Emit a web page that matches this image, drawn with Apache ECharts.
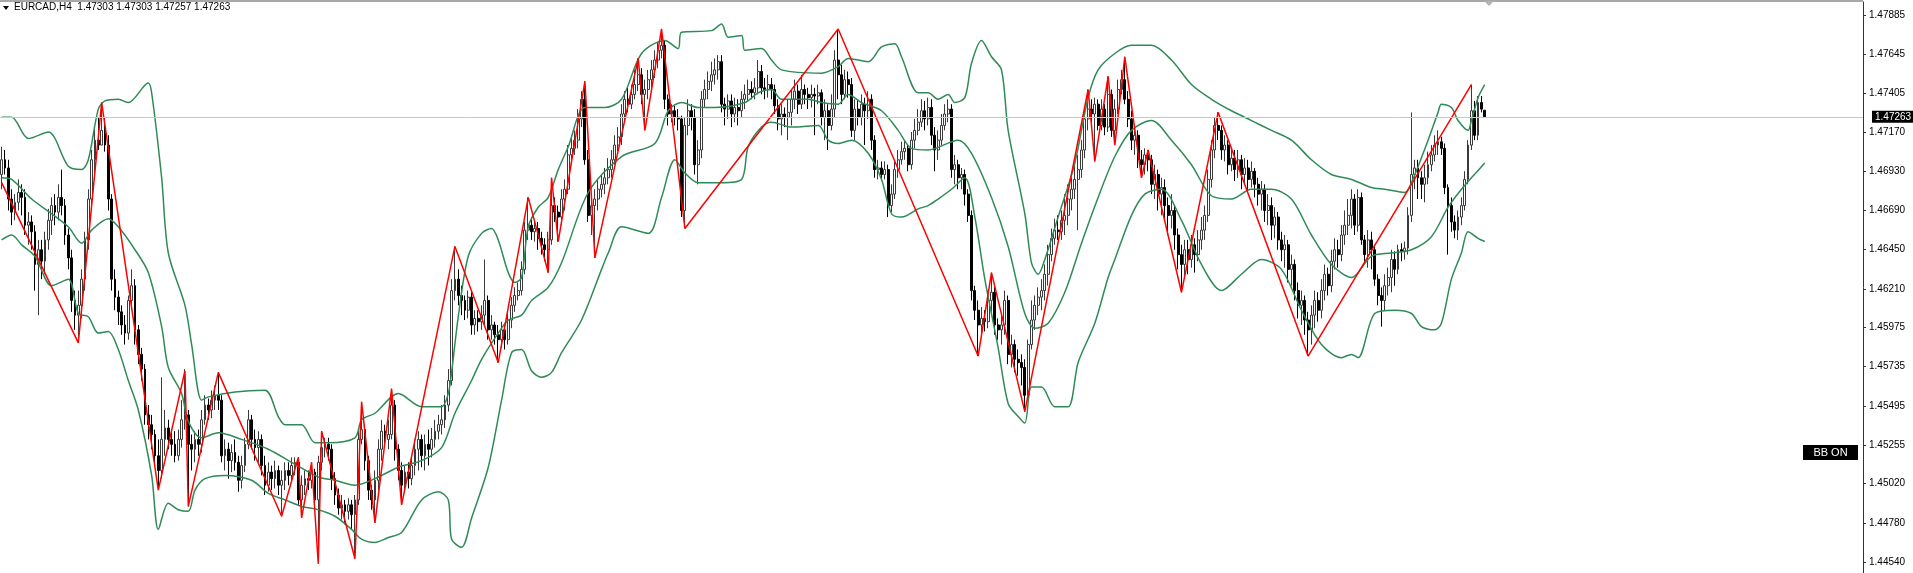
<!DOCTYPE html>
<html>
<head>
<meta charset="utf-8">
<title>EURCAD,H4</title>
<script src="https://cdn.jsdelivr.net/npm/echarts@6/dist/echarts.min.js"></script>
<style>
  html, body { margin: 0; padding: 0; background: #fff; }
  #chart { width: 1913px; height: 573px; }
</style>
</head>
<body>
<div id="chart"></div>
<script>
// EURCAD H4 bars, one row per bar: [open, close, low, high]
var candles = [
  [1.4691,1.4700,1.4682,1.4708],[1.4700,1.4695,1.4691,1.4706],[1.4695,1.4676,1.4669,1.4700],[1.4676,1.4668,1.4660,1.4682],[1.4668,1.4674,1.4663,1.4679],
  [1.4674,1.4680,1.4669,1.4688],[1.4680,1.4677,1.4666,1.4685],[1.4677,1.4660,1.4654,1.4682],[1.4660,1.4662,1.4648,1.4668],[1.4662,1.4656,1.4645,1.4666],
  [1.4656,1.4636,1.4620,1.4660],[1.4636,1.4645,1.4605,1.4651],[1.4645,1.4638,1.4627,1.4651],[1.4638,1.4651,1.4630,1.4656],[1.4651,1.4663,1.4645,1.4670],
  [1.4663,1.4672,1.4654,1.4677],[1.4672,1.4668,1.4660,1.4679],[1.4668,1.4677,1.4663,1.4685],[1.4677,1.4672,1.4666,1.4694],[1.4672,1.4654,1.4648,1.4676],
  [1.4654,1.4640,1.4633,1.4658],[1.4640,1.4614,1.4607,1.4645],[1.4614,1.4605,1.4596,1.4620],[1.4605,1.4611,1.4588,1.4620],[1.4611,1.4627,1.4603,1.4633],
  [1.4627,1.4651,1.4620,1.4656],[1.4651,1.4676,1.4645,1.4682],[1.4676,1.4700,1.4669,1.4706],[1.4700,1.4712,1.4691,1.4720],[1.4712,1.4709,1.4706,1.4726],
  [1.4709,1.4718,1.4709,1.4735],[1.4718,1.4709,1.4705,1.4726],[1.4709,1.4676,1.4669,1.4715],[1.4676,1.4627,1.4620,1.4679],[1.4627,1.4616,1.4608,1.4633],
  [1.4616,1.4607,1.4599,1.4620],[1.4607,1.4599,1.4593,1.4611],[1.4599,1.4594,1.4587,1.4605],[1.4594,1.4614,1.4590,1.4617],[1.4614,1.4623,1.4608,1.4633],
  [1.4623,1.4596,1.4587,1.4627],[1.4596,1.4581,1.4575,1.4599],[1.4581,1.4572,1.4565,1.4585],[1.4572,1.4544,1.4538,1.4575],[1.4544,1.4538,1.4529,1.4550],
  [1.4538,1.4532,1.4523,1.4544],[1.4532,1.4519,1.4513,1.4535],[1.4519,1.4510,1.4498,1.4529],[1.4510,1.4529,1.4505,1.4567],[1.4529,1.4536,1.4519,1.4547],
  [1.4536,1.4529,1.4523,1.4541],[1.4529,1.4526,1.4519,1.4535],[1.4526,1.4519,1.4515,1.4534],[1.4519,1.4529,1.4516,1.4535],[1.4529,1.4541,1.4524,1.4553],
  [1.4541,1.4544,1.4535,1.4572],[1.4544,1.4526,1.4488,1.4547],[1.4526,1.4523,1.4510,1.4532],[1.4523,1.4529,1.4515,1.4534],[1.4529,1.4526,1.4519,1.4535],
  [1.4526,1.4541,1.4521,1.4547],[1.4541,1.4550,1.4538,1.4556],[1.4550,1.4547,1.4541,1.4554],[1.4547,1.4553,1.4542,1.4559],[1.4553,1.4556,1.4547,1.4562],
  [1.4556,1.4553,1.4547,1.4570],[1.4553,1.4519,1.4515,1.4556],[1.4519,1.4523,1.4510,1.4529],[1.4523,1.4516,1.4505,1.4527],[1.4516,1.4521,1.4509,1.4526],
  [1.4521,1.4515,1.4510,1.4529],[1.4515,1.4504,1.4497,1.4519],[1.4504,1.4513,1.4499,1.4519],[1.4513,1.4526,1.4509,1.4530],[1.4526,1.4541,1.4523,1.4547],
  [1.4541,1.4529,1.4523,1.4544],[1.4529,1.4524,1.4516,1.4535],[1.4524,1.4529,1.4515,1.4534],[1.4529,1.4513,1.4507,1.4532],[1.4513,1.4501,1.4495,1.4519],
  [1.4501,1.4509,1.4497,1.4515],[1.4509,1.4505,1.4498,1.4513],[1.4505,1.4510,1.4499,1.4516],[1.4510,1.4501,1.4495,1.4513],[1.4501,1.4504,1.4482,1.4510],
  [1.4504,1.4510,1.4498,1.4515],[1.4510,1.4507,1.4501,1.4515],[1.4507,1.4513,1.4503,1.4518],[1.4513,1.4515,1.4507,1.4518],[1.4515,1.4492,1.4489,1.4518],
  [1.4492,1.4501,1.4481,1.4507],[1.4501,1.4505,1.4495,1.4510],[1.4505,1.4504,1.4498,1.4510],[1.4504,1.4509,1.4499,1.4515],[1.4509,1.4492,1.4486,1.4511],
  [1.4492,1.4515,1.4453,1.4519],[1.4515,1.4524,1.4510,1.4534],[1.4524,1.4526,1.4518,1.4530],[1.4526,1.4523,1.4516,1.4530],[1.4523,1.4505,1.4498,1.4526],
  [1.4505,1.4495,1.4489,1.4509],[1.4495,1.4487,1.4483,1.4499],[1.4487,1.4489,1.4480,1.4495],[1.4489,1.4485,1.4477,1.4492],[1.4485,1.4489,1.4480,1.4493],
  [1.4489,1.4483,1.4474,1.4492],[1.4483,1.4492,1.4456,1.4495],[1.4492,1.4529,1.4489,1.4535],[1.4529,1.4535,1.4526,1.4552],[1.4535,1.4516,1.4510,1.4538],
  [1.4516,1.4498,1.4492,1.4519],[1.4498,1.4492,1.4486,1.4501],[1.4492,1.4504,1.4478,1.4510],[1.4504,1.4523,1.4498,1.4529],[1.4523,1.4534,1.4516,1.4541],
  [1.4534,1.4529,1.4524,1.4538],[1.4529,1.4532,1.4523,1.4541],[1.4532,1.4550,1.4529,1.4560],[1.4550,1.4523,1.4516,1.4553],[1.4523,1.4510,1.4504,1.4526],
  [1.4510,1.4501,1.4489,1.4515],[1.4501,1.4509,1.4497,1.4513],[1.4509,1.4505,1.4499,1.4515],[1.4505,1.4513,1.4501,1.4519],[1.4513,1.4523,1.4507,1.4529],
  [1.4523,1.4529,1.4510,1.4534],[1.4529,1.4519,1.4512,1.4532],[1.4519,1.4526,1.4510,1.4532],[1.4526,1.4523,1.4513,1.4535],[1.4523,1.4529,1.4518,1.4536],
  [1.4529,1.4534,1.4524,1.4541],[1.4534,1.4538,1.4529,1.4544],[1.4538,1.4541,1.4532,1.4550],[1.4541,1.4550,1.4536,1.4556],[1.4550,1.4565,1.4546,1.4572],
  [1.4565,1.4620,1.4562,1.4627],[1.4620,1.4627,1.4614,1.4647],[1.4627,1.4617,1.4611,1.4633],[1.4617,1.4614,1.4605,1.4623],[1.4614,1.4608,1.4602,1.4617],
  [1.4608,1.4616,1.4603,1.4620],[1.4616,1.4599,1.4593,1.4619],[1.4599,1.4603,1.4593,1.4608],[1.4603,1.4601,1.4595,1.4608],[1.4601,1.4605,1.4596,1.4611],
  [1.4605,1.4614,1.4599,1.4639],[1.4614,1.4596,1.4590,1.4617],[1.4596,1.4599,1.4590,1.4605],[1.4599,1.4593,1.4587,1.4601],[1.4593,1.4590,1.4576,1.4599],
  [1.4590,1.4596,1.4585,1.4601],[1.4596,1.4590,1.4584,1.4599],[1.4590,1.4602,1.4587,1.4607],[1.4602,1.4611,1.4597,1.4616],[1.4611,1.4617,1.4607,1.4622],
  [1.4617,1.4620,1.4614,1.4625],[1.4620,1.4633,1.4617,1.4638],[1.4633,1.4657,1.4630,1.4662],[1.4657,1.4660,1.4651,1.4677],[1.4660,1.4656,1.4651,1.4665],
  [1.4656,1.4658,1.4650,1.4663],[1.4658,1.4652,1.4645,1.4662],[1.4652,1.4648,1.4642,1.4656],[1.4648,1.4645,1.4638,1.4652],[1.4645,1.4651,1.4631,1.4656],
  [1.4651,1.4672,1.4648,1.4689],[1.4672,1.4668,1.4662,1.4677],[1.4668,1.4665,1.4650,1.4672],[1.4665,1.4676,1.4660,1.4682],[1.4676,1.4682,1.4669,1.4688],
  [1.4682,1.4703,1.4679,1.4709],[1.4703,1.4707,1.4697,1.4715],[1.4707,1.4712,1.4703,1.4718],[1.4712,1.4725,1.4707,1.4731],[1.4725,1.4737,1.4720,1.4742],
  [1.4737,1.4700,1.4697,1.4748],[1.4700,1.4666,1.4662,1.4706],[1.4666,1.4672,1.4654,1.4679],[1.4672,1.4676,1.4640,1.4682],[1.4676,1.4682,1.4669,1.4688],
  [1.4682,1.4685,1.4677,1.4691],[1.4685,1.4689,1.4679,1.4695],[1.4689,1.4694,1.4685,1.4701],[1.4694,1.4700,1.4689,1.4706],[1.4700,1.4709,1.4697,1.4715],
  [1.4709,1.4714,1.4705,1.4720],[1.4714,1.4728,1.4709,1.4734],[1.4728,1.4737,1.4723,1.4742],[1.4737,1.4734,1.4729,1.4744],[1.4734,1.4740,1.4731,1.4746],
  [1.4740,1.4746,1.4737,1.4755],[1.4746,1.4752,1.4742,1.4762],[1.4752,1.4740,1.4734,1.4756],[1.4740,1.4743,1.4718,1.4749],[1.4743,1.4749,1.4737,1.4755],
  [1.4749,1.4755,1.4743,1.4761],[1.4755,1.4761,1.4750,1.4767],[1.4761,1.4767,1.4756,1.4772],[1.4767,1.4770,1.4762,1.4780],[1.4770,1.4737,1.4731,1.4773],
  [1.4737,1.4728,1.4721,1.4740],[1.4728,1.4730,1.4723,1.4734],[1.4730,1.4726,1.4721,1.4733],[1.4726,1.4725,1.4718,1.4731],[1.4725,1.4669,1.4665,1.4727],
  [1.4669,1.4721,1.4658,1.4726],[1.4721,1.4730,1.4715,1.4737],[1.4730,1.4726,1.4718,1.4734],[1.4726,1.4697,1.4691,1.4731],[1.4697,1.4706,1.4685,1.4712],
  [1.4706,1.4737,1.4701,1.4742],[1.4737,1.4743,1.4732,1.4749],[1.4743,1.4748,1.4737,1.4754],[1.4748,1.4752,1.4742,1.4760],[1.4752,1.4755,1.4746,1.4762],
  [1.4755,1.4760,1.4749,1.4764],[1.4760,1.4734,1.4729,1.4764],[1.4734,1.4731,1.4721,1.4738],[1.4731,1.4736,1.4725,1.4740],[1.4736,1.4728,1.4720,1.4740],
  [1.4728,1.4732,1.4723,1.4738],[1.4732,1.4730,1.4721,1.4737],[1.4730,1.4737,1.4726,1.4742],[1.4737,1.4740,1.4731,1.4746],[1.4740,1.4743,1.4736,1.4749],
  [1.4743,1.4741,1.4737,1.4748],[1.4741,1.4744,1.4737,1.4750],[1.4744,1.4754,1.4740,1.4761],[1.4754,1.4744,1.4740,1.4758],[1.4744,1.4743,1.4737,1.4750],
  [1.4743,1.4746,1.4738,1.4752],[1.4746,1.4743,1.4737,1.4750],[1.4743,1.4733,1.4728,1.4746],[1.4733,1.4725,1.4718,1.4737],[1.4725,1.4728,1.4715,1.4734],
  [1.4728,1.4726,1.4720,1.4732],[1.4726,1.4729,1.4712,1.4737],[1.4729,1.4737,1.4721,1.4743],[1.4737,1.4742,1.4731,1.4749],[1.4742,1.4734,1.4728,1.4746],
  [1.4734,1.4743,1.4731,1.4752],[1.4743,1.4740,1.4734,1.4746],[1.4740,1.4738,1.4731,1.4744],[1.4738,1.4740,1.4732,1.4746],[1.4740,1.4739,1.4715,1.4744],
  [1.4739,1.4741,1.4734,1.4746],[1.4741,1.4726,1.4721,1.4743],[1.4726,1.4730,1.4712,1.4737],[1.4730,1.4721,1.4706,1.4734],[1.4721,1.4731,1.4718,1.4740],
  [1.4731,1.4761,1.4726,1.4767],[1.4761,1.4752,1.4737,1.4780],[1.4752,1.4740,1.4734,1.4758],[1.4740,1.4749,1.4737,1.4755],[1.4749,1.4746,1.4738,1.4754],
  [1.4746,1.4718,1.4714,1.4750],[1.4718,1.4731,1.4712,1.4737],[1.4731,1.4726,1.4721,1.4737],[1.4726,1.4734,1.4721,1.4740],[1.4734,1.4730,1.4709,1.4738],
  [1.4730,1.4737,1.4725,1.4742],[1.4737,1.4712,1.4706,1.4740],[1.4712,1.4694,1.4689,1.4715],[1.4694,1.4695,1.4688,1.4700],[1.4695,1.4691,1.4687,1.4699],
  [1.4691,1.4694,1.4688,1.4699],[1.4694,1.4672,1.4665,1.4697],[1.4672,1.4679,1.4668,1.4685],[1.4679,1.4694,1.4676,1.4700],[1.4694,1.4700,1.4689,1.4706],
  [1.4700,1.4705,1.4697,1.4711],[1.4705,1.4707,1.4700,1.4712],[1.4707,1.4697,1.4693,1.4709],[1.4697,1.4712,1.4694,1.4717],[1.4712,1.4718,1.4707,1.4725],
  [1.4718,1.4723,1.4715,1.4731],[1.4723,1.4730,1.4720,1.4737],[1.4730,1.4725,1.4718,1.4736],[1.4725,1.4732,1.4721,1.4738],[1.4732,1.4715,1.4709,1.4737],
  [1.4715,1.4706,1.4693,1.4720],[1.4706,1.4712,1.4700,1.4718],[1.4712,1.4721,1.4709,1.4728],[1.4721,1.4728,1.4718,1.4734],[1.4728,1.4731,1.4723,1.4737],
  [1.4731,1.4694,1.4689,1.4734],[1.4694,1.4697,1.4685,1.4703],[1.4697,1.4689,1.4682,1.4700],[1.4689,1.4691,1.4682,1.4695],[1.4691,1.4679,1.4672,1.4694],
  [1.4679,1.4666,1.4662,1.4682],[1.4666,1.4620,1.4614,1.4669],[1.4620,1.4608,1.4602,1.4623],[1.4608,1.4599,1.4580,1.4614],[1.4599,1.4603,1.4593,1.4610],
  [1.4603,1.4601,1.4595,1.4608],[1.4601,1.4614,1.4597,1.4620],[1.4614,1.4619,1.4607,1.4631],[1.4619,1.4599,1.4593,1.4622],[1.4599,1.4596,1.4590,1.4603],
  [1.4596,1.4599,1.4587,1.4605],[1.4599,1.4614,1.4593,1.4620],[1.4614,1.4581,1.4575,1.4617],[1.4581,1.4587,1.4573,1.4593],[1.4587,1.4578,1.4570,1.4590],
  [1.4578,1.4576,1.4568,1.4584],[1.4576,1.4573,1.4562,1.4581],[1.4573,1.4556,1.4546,1.4578],[1.4556,1.4587,1.4553,1.4590],[1.4587,1.4602,1.4584,1.4614],
  [1.4602,1.4611,1.4596,1.4617],[1.4611,1.4616,1.4605,1.4622],[1.4616,1.4620,1.4608,1.4627],[1.4620,1.4630,1.4614,1.4636],[1.4630,1.4642,1.4623,1.4648],
  [1.4642,1.4652,1.4638,1.4658],[1.4652,1.4657,1.4648,1.4664],[1.4657,1.4656,1.4651,1.4666],[1.4656,1.4663,1.4651,1.4669],[1.4663,1.4666,1.4654,1.4679],
  [1.4666,1.4676,1.4660,1.4685],[1.4676,1.4682,1.4669,1.4689],[1.4682,1.4688,1.4676,1.4697],[1.4688,1.4694,1.4657,1.4703],[1.4694,1.4706,1.4689,1.4712],
  [1.4706,1.4725,1.4701,1.4731],[1.4725,1.4731,1.4718,1.4743],[1.4731,1.4728,1.4721,1.4737],[1.4728,1.4734,1.4699,1.4738],[1.4734,1.4721,1.4718,1.4737],
  [1.4721,1.4731,1.4718,1.4737],[1.4731,1.4720,1.4715,1.4734],[1.4720,1.4740,1.4717,1.4751],[1.4740,1.4718,1.4714,1.4743],[1.4718,1.4731,1.4709,1.4737],
  [1.4731,1.4743,1.4728,1.4749],[1.4743,1.4749,1.4740,1.4755],[1.4749,1.4737,1.4734,1.4763],[1.4737,1.4725,1.4720,1.4742],[1.4725,1.4712,1.4706,1.4730],
  [1.4712,1.4715,1.4703,1.4721],[1.4715,1.4700,1.4695,1.4718],[1.4700,1.4697,1.4689,1.4706],[1.4697,1.4703,1.4691,1.4707],[1.4703,1.4700,1.4693,1.4706],
  [1.4700,1.4685,1.4679,1.4703],[1.4685,1.4691,1.4676,1.4697],[1.4691,1.4679,1.4669,1.4694],[1.4679,1.4683,1.4666,1.4689],[1.4683,1.4672,1.4663,1.4688],
  [1.4672,1.4666,1.4654,1.4677],[1.4666,1.4669,1.4658,1.4679],[1.4669,1.4654,1.4645,1.4672],[1.4654,1.4642,1.4633,1.4658],[1.4642,1.4636,1.4619,1.4648],
  [1.4636,1.4645,1.4627,1.4651],[1.4645,1.4639,1.4630,1.4651],[1.4639,1.4648,1.4634,1.4654],[1.4648,1.4642,1.4631,1.4652],[1.4642,1.4651,1.4638,1.4657],
  [1.4651,1.4657,1.4645,1.4665],[1.4657,1.4666,1.4651,1.4672],[1.4666,1.4688,1.4662,1.4694],[1.4688,1.4706,1.4683,1.4712],[1.4706,1.4721,1.4701,1.4726],
  [1.4721,1.4718,1.4712,1.4729],[1.4718,1.4706,1.4700,1.4721],[1.4706,1.4709,1.4699,1.4715],[1.4709,1.4697,1.4691,1.4712],[1.4697,1.4701,1.4693,1.4707],
  [1.4701,1.4694,1.4687,1.4706],[1.4694,1.4700,1.4689,1.4706],[1.4700,1.4691,1.4682,1.4703],[1.4691,1.4695,1.4685,1.4701],[1.4695,1.4688,1.4680,1.4700],
  [1.4688,1.4693,1.4683,1.4699],[1.4693,1.4685,1.4677,1.4695],[1.4685,1.4679,1.4672,1.4689],[1.4679,1.4682,1.4669,1.4687],[1.4682,1.4669,1.4662,1.4685],
  [1.4669,1.4672,1.4660,1.4679],[1.4672,1.4660,1.4651,1.4677],[1.4660,1.4665,1.4652,1.4671],[1.4665,1.4651,1.4645,1.4668],[1.4651,1.4645,1.4638,1.4656],
  [1.4645,1.4648,1.4634,1.4654],[1.4648,1.4633,1.4625,1.4651],[1.4633,1.4636,1.4623,1.4642],[1.4636,1.4620,1.4614,1.4639],[1.4620,1.4611,1.4603,1.4625],
  [1.4611,1.4614,1.4599,1.4620],[1.4614,1.4602,1.4593,1.4617],[1.4602,1.4596,1.4580,1.4607],[1.4596,1.4605,1.4587,1.4611],[1.4605,1.4614,1.4597,1.4620],
  [1.4614,1.4608,1.4601,1.4619],[1.4608,1.4620,1.4603,1.4627],[1.4620,1.4630,1.4614,1.4636],[1.4630,1.4623,1.4617,1.4634],[1.4623,1.4638,1.4619,1.4645],
  [1.4638,1.4645,1.4633,1.4652],[1.4645,1.4642,1.4634,1.4651],[1.4642,1.4654,1.4638,1.4660],[1.4654,1.4660,1.4648,1.4669],[1.4660,1.4666,1.4654,1.4676],
  [1.4666,1.4676,1.4658,1.4682],[1.4676,1.4660,1.4654,1.4679],[1.4660,1.4677,1.4656,1.4682],[1.4677,1.4651,1.4648,1.4680],[1.4651,1.4642,1.4638,1.4654],
  [1.4642,1.4651,1.4634,1.4657],[1.4651,1.4645,1.4633,1.4656],[1.4645,1.4627,1.4623,1.4648],[1.4627,1.4617,1.4611,1.4630],[1.4617,1.4614,1.4598,1.4622],
  [1.4614,1.4623,1.4608,1.4630],[1.4623,1.4628,1.4617,1.4634],[1.4628,1.4639,1.4619,1.4645],[1.4639,1.4633,1.4623,1.4644],[1.4633,1.4645,1.4630,1.4648],
  [1.4645,1.4644,1.4638,1.4649],[1.4644,1.4646,1.4639,1.4650],[1.4646,1.4666,1.4642,1.4671],[1.4666,1.4691,1.4662,1.4729],[1.4691,1.4695,1.4682,1.4700],
  [1.4695,1.4689,1.4676,1.4700],[1.4689,1.4685,1.4676,1.4693],[1.4685,1.4689,1.4674,1.4697],[1.4689,1.4697,1.4685,1.4705],[1.4697,1.4703,1.4693,1.4709],
  [1.4703,1.4709,1.4699,1.4715],[1.4709,1.4711,1.4703,1.4718],[1.4711,1.4707,1.4703,1.4714],[1.4707,1.4683,1.4679,1.4710],[1.4683,1.4672,1.4642,1.4685],
  [1.4672,1.4662,1.4656,1.4677],[1.4662,1.4657,1.4652,1.4666],[1.4657,1.4665,1.4651,1.4669],[1.4665,1.4672,1.4660,1.4677],[1.4672,1.4688,1.4669,1.4693],
  [1.4688,1.4709,1.4685,1.4712],[1.4709,1.4730,1.4706,1.4746],[1.4730,1.4715,1.4712,1.4736],[1.4715,1.4735,1.4712,1.4739],[1.4735,1.4731,1.4729,1.4739],
  [1.47303,1.47263,1.47257,1.47303]
];

// Bollinger bands (20, 2): [bar, price]
var bbUpper = [
  [0,1.4726],[3,1.4726],[8,1.4713],[14,1.4717],[20,1.4696],[24,1.4694],[26,1.4700],[29,1.4731],[31,1.4736],[35,1.4737],
  [38,1.4735],[44,1.4747],[45,1.4741],[48,1.4689],[50,1.4643],[55,1.4611],[57,1.4587],[60,1.4553],[62,1.4555],[70,1.4558],
  [79,1.4559],[83,1.4543],[85,1.4538],[90,1.4538],[94,1.4527],[98,1.4527],[106,1.4530],[108,1.4541],[112,1.4545],[119,1.4557],
  [126,1.4549],[132,1.4549],[134,1.4557],[135,1.4570],[137,1.4604],[140,1.4641],[144,1.4655],[147,1.4658],[149,1.4651],[152,1.4631],
  [154,1.4625],[156,1.4628],[158,1.4659],[161,1.4671],[164,1.4677],[167,1.4694],[170,1.4708],[175,1.4732],[181,1.4732],[186,1.4737],
  [192,1.4765],[199,1.4773],[203,1.4768],[204,1.4778],[213,1.4779],[216,1.4783],[218,1.4775],[222,1.4776],[223,1.4767],[228,1.4768],
  [231,1.4761],[234,1.4755],[246,1.4753],[251,1.4757],[254,1.4762],[260,1.4760],[264,1.4769],[268,1.4771],[270,1.4763],[275,1.4741],
  [278,1.4741],[281,1.4737],[284,1.4740],[286,1.4735],[289,1.4738],[291,1.4759],[294,1.4773],[297,1.4763],[300,1.4755],[302,1.4718],
  [307,1.4667],[309,1.4637],[311,1.4630],[313,1.4639],[317,1.4665],[322,1.4698],[326,1.4738],[329,1.4755],[334,1.4765],[339,1.4770],
  [345,1.4770],[351,1.4761],[357,1.4746],[363,1.4737],[369,1.4730],[375,1.4724],[381,1.4718],[387,1.4712],[393,1.4700],[399,1.4691],
  [405,1.4688],[411,1.4683],[415,1.4682],[421,1.4680],[423,1.4686],[428,1.4712],[431,1.4729],[432,1.4734],[435,1.4732],[437,1.4724],
  [440,1.4718],[441,1.4724],[443,1.4738],[445,1.4746]
];
var bbMiddle = [
  [0,1.4689],[3,1.4688],[9,1.4676],[15,1.4667],[20,1.4659],[24,1.4649],[27,1.4657],[32,1.4664],[35,1.4659],[40,1.4645],
  [44,1.4631],[48,1.4598],[50,1.4573],[54,1.4557],[56,1.4540],[60,1.4530],[65,1.4533],[72,1.4529],[80,1.4523],[87,1.4515],
  [95,1.4506],[100,1.4504],[106,1.4501],[112,1.4505],[119,1.4512],[126,1.4516],[132,1.4524],[136,1.4545],[141,1.4565],[144,1.4578],
  [149,1.4594],[152,1.4602],[156,1.4605],[159,1.4614],[164,1.4622],[168,1.4637],[176,1.4680],[186,1.4702],[196,1.4710],[200,1.4730],
  [204,1.4735],[209,1.4732],[214,1.4732],[223,1.4735],[227,1.4741],[231,1.4743],[234,1.4737],[242,1.4737],[246,1.4735],[251,1.4734],
  [254,1.4740],[258,1.4735],[264,1.4730],[269,1.4718],[273,1.4707],[278,1.4706],[287,1.4712],[291,1.4704],[297,1.4677],[302,1.4647],
  [307,1.4606],[310,1.4597],[314,1.4600],[319,1.4619],[324,1.4649],[329,1.4677],[334,1.4702],[339,1.4718],[345,1.4724],[351,1.4712],
  [357,1.4697],[363,1.4678],[369,1.4676],[375,1.4682],[381,1.4682],[387,1.4676],[393,1.4654],[399,1.4636],[405,1.4628],[411,1.4641],
  [417,1.4643],[423,1.4645],[429,1.4653],[434,1.4671],[438,1.4682],[441,1.4689],[445,1.4698]
];
var bbLower = [
  [0,1.4651],[3,1.4654],[6,1.4648],[10,1.4641],[15,1.4623],[20,1.4627],[23,1.4606],[26,1.4604],[29,1.4594],[32,1.4595],
  [35,1.4584],[38,1.4565],[41,1.4547],[45,1.4507],[47,1.4474],[50,1.4490],[53,1.4486],[56,1.4485],[58,1.4498],[61,1.4505],
  [67,1.4507],[75,1.4504],[80,1.4496],[85,1.4492],[90,1.4488],[95,1.4486],[100,1.4482],[105,1.4474],[108,1.4468],[112,1.4466],
  [116,1.4469],[120,1.4472],[126,1.4492],[131,1.4497],[134,1.4492],[135,1.4468],[138,1.4463],[141,1.4481],[146,1.4512],[150,1.4553],
  [153,1.4582],[156,1.4584],[159,1.4571],[162,1.4567],[165,1.4570],[168,1.4582],[174,1.4602],[180,1.4633],[182,1.4643],[186,1.4659],
  [194,1.4655],[198,1.4677],[202,1.4700],[205,1.4692],[209,1.4686],[216,1.4686],[222,1.4688],[224,1.4708],[228,1.4720],[231,1.4723],
  [237,1.4720],[245,1.4721],[248,1.4712],[251,1.4710],[255,1.4712],[260,1.4704],[264,1.4688],[267,1.4667],[270,1.4665],[275,1.4670],
  [278,1.4672],[281,1.4676],[285,1.4682],[289,1.4689],[292,1.4665],[295,1.4627],[299,1.4585],[302,1.4551],[305,1.4543],[307,1.4539],
  [309,1.4561],[312,1.4561],[316,1.4549],[320,1.4549],[323,1.4576],[328,1.4600],[332,1.4628],[334,1.4639],[339,1.4666],[343,1.4679],
  [348,1.4682],[354,1.4663],[360,1.4636],[366,1.4620],[372,1.4630],[378,1.4639],[384,1.4633],[390,1.4608],[396,1.4587],[402,1.4579],
  [405,1.4581],[407,1.4579],[412,1.4606],[418,1.4608],[423,1.4606],[426,1.4598],[430,1.4596],[432,1.4600],[435,1.4627],[438,1.4643],
  [440,1.4656],[443,1.4652],[445,1.4650]
];

// ZigZag turning points: [bar, price]
var zigzag = [
  [0,1.4686],[23,1.4588],[30,1.4735],[47,1.4498],[55,1.4571],[56,1.4488],[65,1.4570],[84,1.4482],[89,1.4518],[90,1.4481],
  [93,1.4515],[95,1.4453],[96,1.4534],[106,1.4456],[108,1.4552],[112,1.4478],[117,1.4560],[120,1.4489],[136,1.4647],[149,1.4576],
  [158,1.4677],[164,1.4631],[165,1.4689],[167,1.4650],[175,1.4748],[178,1.4640],[191,1.4762],[193,1.4718],[198,1.4780],[205,1.4658],
  [251,1.4780],[293,1.4580],[297,1.4631],[307,1.4546],[326,1.4743],[328,1.4699],[332,1.4751],[334,1.4709],[337,1.4763],[342,1.4689],
  [344,1.4706],[354,1.4619],[365,1.4729],[392,1.4580],[441,1.4746]
];

var priceTicks = [1.47885, 1.47645, 1.47405, 1.47170, 1.46930, 1.46690, 1.46450, 1.46210,
  1.45975, 1.45735, 1.45495, 1.45255, 1.45020, 1.44780, 1.44540];
var lastQuote = [1.47303, 1.47303, 1.47257, 1.47263]; // open, high, low, close
var symbolName = 'EURCAD,H4';

// bar slots, the empty ones on the right are the chart shift space
var barSlots = [];
for (var i = 0; i < 559; i++) barSlots.push(i);

var chart = echarts.init(document.getElementById('chart'));
var font = 'Liberation Sans, Arial, sans-serif';

function bandSeries(name, data) {
  return {
    name: name,
    type: 'line',
    data: data,
    smooth: 0.3,
    symbol: 'none',
    silent: true,
    lineStyle: { color: '#2e8b57', width: 1.5 },
    z: 3
  };
}

var option = {
  animation: false,
  backgroundColor: '#ffffff',
  title: {
    text: symbolName + '  ' + lastQuote.map(function (v) { return v.toFixed(5); }).join(' '),
    left: 14,
    top: 2,
    padding: 0,
    textStyle: { fontFamily: font, fontSize: 10, fontWeight: 'normal', color: '#000' }
  },
  grid: { left: 0, right: 50, top: 2, bottom: 0 },
  xAxis: {
    type: 'category',
    data: barSlots,
    boundaryGap: true,
    axisLine: { show: false },
    axisTick: { show: false },
    axisLabel: { show: false },
    splitLine: { show: false }
  },
  yAxis: {
    type: 'value',
    position: 'right',
    min: 1.44473,
    max: 1.47965,
    axisLine: { show: true, lineStyle: { color: '#333', width: 1 } },
    axisTick: { show: true, length: 3, customValues: priceTicks, lineStyle: { color: '#333' } },
    axisLabel: {
      customValues: priceTicks,
      margin: 6,
      fontFamily: font,
      fontSize: 10,
      color: '#000',
      formatter: function (v) { return v.toFixed(5); }
    },
    splitLine: { show: false }
  },
  graphic: [
    { type: 'rect', shape: { x: 0, y: 0, width: 1863, height: 2 }, style: { fill: '#a8a8a8' }, silent: true },
    { type: 'polygon', shape: { points: [[3, 6], [9, 6], [6, 10]] }, style: { fill: '#000' }, silent: true },
    { type: 'polygon', shape: { points: [[1484, 1], [1494, 1], [1489, 6]] }, style: { fill: '#b4b4b4' }, silent: true },
    {
      type: 'group', left: 1803, top: 445, silent: true,
      children: [
        { type: 'rect', shape: { x: 0, y: 0, width: 55, height: 15 }, style: { fill: '#000' } },
        { type: 'text', x: 27.5, y: 8, style: { text: 'BB ON', fill: '#fff', font: '11px ' + font, textAlign: 'center', textVerticalAlign: 'middle' } }
      ]
    }
  ],
  series: [
    {
      name: symbolName,
      type: 'candlestick',
      data: candles,
      barWidth: '70%',
      itemStyle: {
        color: '#ffffff',
        color0: '#000000',
        borderColor: '#3a3a3a',
        borderColor0: '#000000',
        borderWidth: 1
      },
      markLine: {
        silent: true,
        symbol: 'none',
        animation: false,
        precision: 5,
        lineStyle: { color: '#c8c8c8', width: 1, type: 'solid' },
        label: {
          position: 'end',
          distance: 9,
          fontFamily: font,
          fontSize: 10,
          color: '#fff',
          backgroundColor: '#000',
          padding: [1, 3, 1, 3],
          formatter: function (p) { return Number(p.value).toFixed(5); }
        },
        data: [{ yAxis: lastQuote[3] }]
      },
      z: 2
    },
    bandSeries('BB upper', bbUpper),
    bandSeries('BB middle', bbMiddle),
    bandSeries('BB lower', bbLower),
    {
      name: 'ZigZag',
      type: 'line',
      data: zigzag,
      symbol: 'none',
      silent: true,
      lineStyle: { color: '#ff0000', width: 1.5 },
      z: 4
    }
  ]
};

chart.setOption(option);
window.addEventListener('resize', chart.resize);
</script>
</body>
</html>
